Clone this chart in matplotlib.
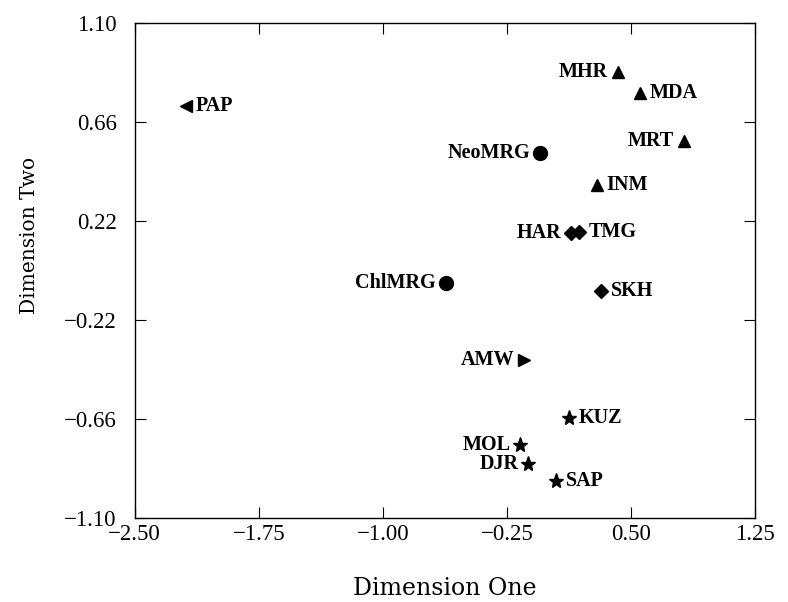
import matplotlib
matplotlib.use("Agg")
import matplotlib.pyplot as plt

labels = ["PAP", "MHR", "MDA", "MRT", "NeoMRG", "INM", "HAR", "TMG",
          "ChlMRG", "SKH", "AMW", "KUZ", "MOL", "DJR", "SAP"]
dim_one = [-2.19, 0.42, 0.555, 0.82, -0.05, 0.295, 0.14, 0.185,
           -0.62, 0.32, -0.147, 0.125, -0.17, -0.12, 0.047]
dim_two = [0.73, 0.88, 0.79, 0.576, 0.52, 0.38, 0.167, 0.17,
           -0.056, -0.09, -0.398, -0.656, -0.776, -0.86, -0.935]
markers = ["<", "^", "^", "^", "o", "^", "D", "D",
           "o", "D", ">", "*", "*", "*", "*"]
label_side = ["right", "left", "right", "left", "left", "right", "left", "right",
              "left", "right", "left", "right", "left", "left", "right"]

x_ticks = [-2.50, -1.75, -1.00, -0.25, 0.50, 1.25]
y_ticks = [-1.10, -0.66, -0.22, 0.22, 0.66, 1.10]

plt.rcParams["font.family"] = ["Liberation Serif", "DejaVu Serif"]

fig = plt.figure(figsize=(7.88, 6.02), dpi=100)
ax = fig.add_axes([0.171, 0.1395, 0.787, 0.8225])

sizes = {"<": 8, ">": 8, "^": 8.5, "o": 10, "D": 7.5, "*": 11}
for x, y, lab, m, side in zip(dim_one, dim_two, labels, markers, label_side):
    ax.plot(x, y, marker=m, color="black", markersize=sizes[m], linestyle="none")
    if side == "right":
        ax.annotate(lab, (x, y), xytext=(7, 0), textcoords="offset points",
                    ha="left", va="center", fontsize=14.5, fontweight="bold")
    else:
        ax.annotate(lab, (x, y), xytext=(-7, 0), textcoords="offset points",
                    ha="right", va="center", fontsize=14.5, fontweight="bold")

ax.set_xlim(-2.50, 1.25)
ax.set_ylim(-1.10, 1.10)
ax.set_xticks(x_ticks)
ax.set_yticks(y_ticks)
ax.set_xticklabels([f"{t:.2f}".replace("-", "\u2212") for t in x_ticks])
ax.set_yticklabels([f"{t:.2f}".replace("-", "\u2212") for t in y_ticks])
ax.tick_params(direction="in", length=8, top=True, right=True, labelsize=16.5)
ax.tick_params(axis="x", pad=4)
ax.tick_params(axis="y", pad=13)
for s in ax.spines.values():
    s.set_linewidth(1.0)

ax.set_xlabel("Dimension One", fontsize=17, family="DejaVu Serif")
ax.set_ylabel("Dimension Two", fontsize=14.5, family="DejaVu Serif")
ax.xaxis.set_label_coords(0.5, -0.12)
ax.yaxis.set_label_coords(-0.155, 0.57)

fig.savefig("out.png", dpi=100)
